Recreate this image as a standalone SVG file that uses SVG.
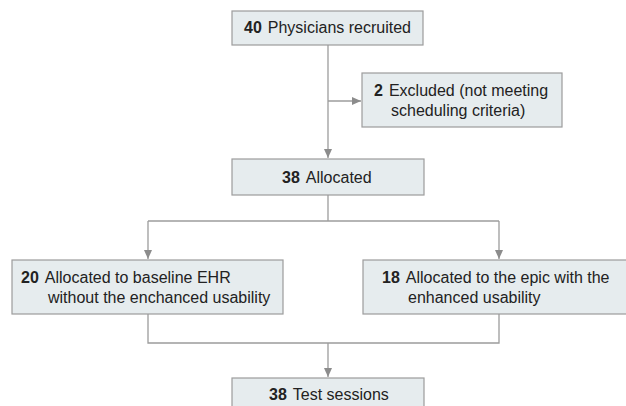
<svg xmlns="http://www.w3.org/2000/svg" width="626" height="406" viewBox="0 0 626 406">
<defs>
<style>
.box{fill:#e6ecee;stroke:#9c9c9c;stroke-width:1.2}
.ln{fill:none;stroke:#9c9c9c;stroke-width:1.3}
.t{font-family:"Liberation Sans",Arial,sans-serif;font-size:16px;fill:#222}
.b{font-weight:bold}
</style>
<marker id="ah" markerWidth="10" markerHeight="8" refX="9" refY="4" orient="auto" markerUnits="userSpaceOnUse">
<path d="M0,0 L9,4 L0,8 Z" fill="#8c8c8c"/>
</marker>
</defs>
<rect width="626" height="406" fill="#fff"/>
<g id="connectors">
<path class="ln" d="M328,45 V158" marker-end="url(#ah)"/>
<path class="ln" d="M328,101 H361" marker-end="url(#ah)"/>
<path class="ln" d="M328,195 V221"/>
<path class="ln" d="M148,221 H499"/>
<path class="ln" d="M148,221 V259" marker-end="url(#ah)"/>
<path class="ln" d="M499,221 V259" marker-end="url(#ah)"/>
<path class="ln" d="M148,314 V343 H499 V314"/>
<path class="ln" d="M328,343 V377" marker-end="url(#ah)"/>
</g>
<g id="recruited">
<rect class="box" x="232" y="11" width="191" height="34"/>
<text class="t" x="244" y="33"><tspan class="b">40</tspan><tspan dx="6">Physicians recruited</tspan></text>
</g>
<g id="excluded">
<rect class="box" x="362" y="73" width="200" height="54"/>
<text class="t" x="374" y="96"><tspan class="b">2</tspan><tspan dx="6">Excluded (not meeting</tspan></text>
<text class="t" x="391" y="116">scheduling criteria)</text>
</g>
<g id="allocated">
<rect class="box" x="232" y="159" width="192" height="36"/>
<text class="t" x="282" y="183"><tspan class="b">38</tspan><tspan dx="6">Allocated</tspan></text>
</g>
<g id="baseline">
<rect class="box" x="12" y="260" width="271" height="54"/>
<text class="t" x="21" y="283"><tspan class="b">20</tspan><tspan dx="6">Allocated to baseline EHR</tspan></text>
<text class="t" x="48" y="303">without the enchanced usability</text>
</g>
<g id="enhanced">
<rect class="box" x="363" y="260" width="266" height="54"/>
<text class="t" x="382" y="283"><tspan class="b">18</tspan><tspan dx="6">Allocated to the epic with the</tspan></text>
<text class="t" x="408" y="303">enhanced usability</text>
</g>
<g id="sessions">
<rect class="box" x="232" y="378" width="192" height="40"/>
<text class="t" x="269" y="400"><tspan class="b">38</tspan><tspan dx="6">Test sessions</tspan></text>
</g>
</svg>
